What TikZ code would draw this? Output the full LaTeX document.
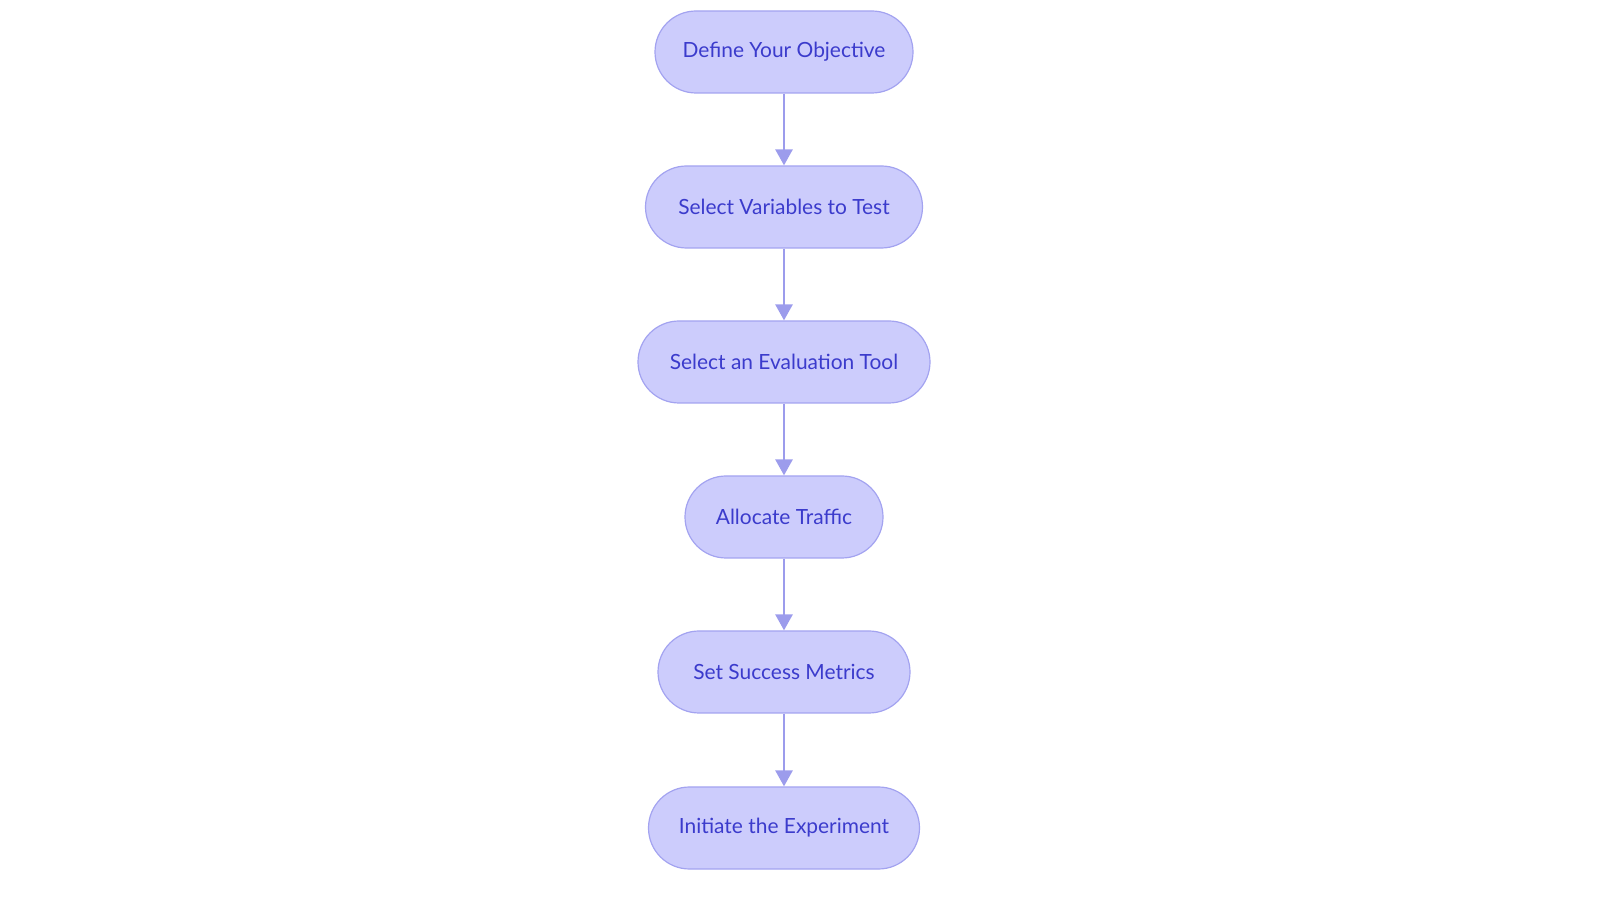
\documentclass[tikz,border=0pt]{standalone}
\usepackage{fontspec}
\setmainfont{Lato}
\usetikzlibrary{arrows.meta}
\definecolor{boxfill}{HTML}{CCCCFC}
\definecolor{boxline}{HTML}{A3A3F0}
\definecolor{txt}{HTML}{3B3BCC}
\definecolor{arr}{HTML}{9C9CEC}
\begin{document}
\begin{tikzpicture}[x=1bp,y=1bp,
  box/.style={draw=boxline,line width=1.2pt,fill=boxfill,rounded corners=41bp,minimum height=82bp,text=txt,font=\fontsize{21}{25}\selectfont,inner sep=0pt},
  link/.style={draw=arr,line width=2.6pt,-{Triangle[length=16pt,width=17pt]}}]
\useasboundingbox (0,0) rectangle (1600,903);
\node[box,minimum width=258bp] (a) at (784,851) {Define Your Objective};
\node[box,minimum width=277bp] (b) at (784,696) {Select Variables to Test};
\node[box,minimum width=292bp] (c) at (784,541) {Select an Evaluation Tool};
\node[box,minimum width=198bp] (d) at (784,386) {Allocate Traffic};
\node[box,minimum width=252bp] (e) at (784,231) {Set Success Metrics};
\node[box,minimum width=271bp] (f) at (784,75) {Initiate the Experiment};
\draw[link] (a) -- (b);
\draw[link] (b) -- (c);
\draw[link] (c) -- (d);
\draw[link] (d) -- (e);
\draw[link] (e) -- (f);
\end{tikzpicture}
\end{document}
